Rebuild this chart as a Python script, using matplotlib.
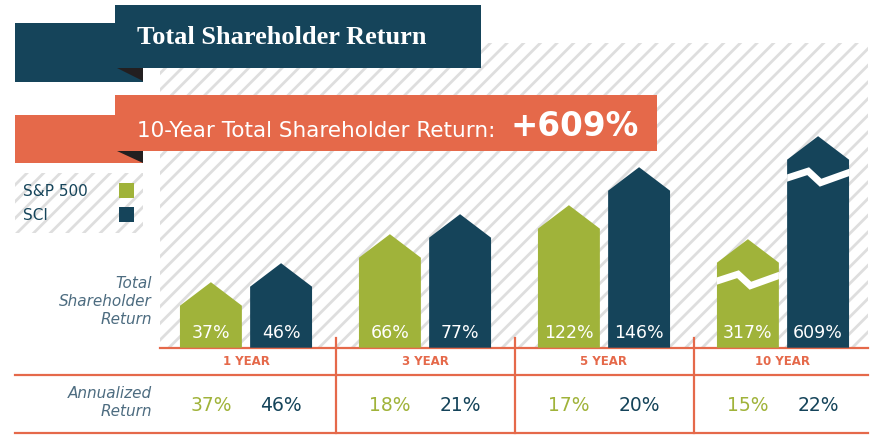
import matplotlib.pyplot as plt
from matplotlib.patches import Polygon, Rectangle
import numpy as np

categories = ["1 YEAR", "3 YEAR", "5 YEAR", "10 YEAR"]
sp500_tsr = [37, 66, 122, 317]
sci_tsr = [46, 77, 146, 609]
sp500_annual = [37, 18, 17, 15]
sci_annual = [46, 21, 20, 22]
# bar heights as drawn on the graphic (not to scale, 10 year bars are broken)
sp500_drawn = [42, 90, 119, 85]
sci_drawn = [61, 110, 157, 188]
broken = [False, False, False, True]
series_names = ["S&P 500", "SCI"]

NAVY = "#15445A"
GREEN = "#A0B33A"
ORANGE = "#E5694A"
SLATE = "#4D6C80"
HATCH = "#DEDEDE"
FOLD = "#231F20"

plt.rcParams["hatch.linewidth"] = 2.0
sans = ["DejaVu Sans"]
serif = ["Liberation Serif", "DejaVu Serif"]

W, H = 877, 441
fig = plt.figure(figsize=(W / 100, H / 100), dpi=100)

# background axes in pixel units for the layout pieces
bg = fig.add_axes([0, 0, 1, 1])
bg.set_xlim(0, W)
bg.set_ylim(H, 0)
bg.axis("off")

# striped panels
bg.add_patch(Rectangle((160, 43), 708, 305, fc="white", ec=HATCH, lw=0, hatch="//"))
bg.add_patch(Rectangle((15, 173), 128, 60, fc="white", ec=HATCH, lw=0, hatch="//"))


def banner(y0, y1, back_y0, back_y1, right, color):
    bg.add_patch(Rectangle((15, back_y0), 128, back_y1 - back_y0, fc=color, ec="none"))
    bg.add_patch(Polygon([(117, y1), (143, y1), (143, y1 + 12.5)], fc=FOLD, ec="none"))
    bg.add_patch(Rectangle((115, y0), right - 115, y1 - y0, fc=color, ec="none"))


banner(5, 68, 23, 82, 481, NAVY)
banner(95, 150.5, 115, 163, 657, ORANGE)

bg.text(137, 43.5, "Total Shareholder Return", color="white", fontsize=19,
        fontweight="bold", family=serif, va="baseline")
bg.text(137, 137, "10-Year Total Shareholder Return:", color="white",
        fontsize=15.5, family=sans, va="baseline")
bg.text(510, 136.5, f"+{sci_tsr[-1]}%", color="white", fontsize=23.5,
        fontweight="bold", family=sans, va="baseline")

# legend
for i, (name, color) in enumerate(zip(series_names, [GREEN, NAVY])):
    yc = 191 + i * 24
    bg.text(23, yc, name, color=NAVY, fontsize=11, family=sans, va="center")
    bg.add_patch(Rectangle((119, yc - 8), 15, 15, fc=color, ec="none"))

# row labels
bg.text(152, 301, "Total\nShareholder\nReturn", color=SLATE, fontsize=11,
        style="italic", family=sans, ha="right", va="center", linespacing=1.25)
bg.text(152, 403, "Annualized\nReturn", color=SLATE, fontsize=11,
        style="italic", family=sans, ha="right", va="center", linespacing=1.25)

# table lines
bg.plot([160, 868], [348, 348], color=ORANGE, lw=1.6)
bg.plot([15, 868], [374.5, 374.5], color=ORANGE, lw=1.6)
bg.plot([15, 868], [433, 433], color=ORANGE, lw=1.6)

# bar axes: x in groups, y in drawn-height units
base_y = 347.7
ax = fig.add_axes([160 / W, (H - base_y) / H, 708 / W, (base_y - 40) / H])
ax.set_xlim(-86 / 179, 622 / 179)
ax.set_ylim(0, base_y - 40)
ax.axis("off")

x = np.arange(len(categories))
bw = 0.346
off = 0.196
roof = 23.5

for xs, heights, vals, color in [(x - off, sp500_drawn, sp500_tsr, GREEN),
                                 (x + off, sci_drawn, sci_tsr, NAVY)]:
    for xc, h, v, brk in zip(xs, heights, vals, broken):
        x0, x1 = xc - bw / 2, xc + bw / 2
        poly = Polygon([(x0, 0), (x0, h), (xc, h + roof), (x1, h), (x1, 0)],
                       closed=True, fc=color, ec="none")
        ax.add_patch(poly)
        ax.text(xc, 9.5, f"{v}%", color="white", fontsize=12.5, family=sans,
                ha="center", va="baseline")
        if brk:
            zx = [x0 - 0.02, x0 + 0.34 * bw, x0 + 0.54 * bw, x1 + 0.02]
            zy = [h - 19.5, h - 11.5, h - 23, h - 11.5]
            line, = ax.plot(zx, zy, color="white", lw=5, solid_joinstyle="miter")
            line.set_clip_path(poly)

# column dividers, category labels and annualized returns
for i in range(1, len(categories)):
    ax.plot([i - 0.5, i - 0.5], [10, -85], color=ORANGE, lw=1.6, clip_on=False)

for i, cat in enumerate(categories):
    ax.text(i, -13.8, cat, color=ORANGE, fontsize=8.5, fontweight="bold",
            family=sans, ha="center", va="center", clip_on=False)
    ax.text(i - off, -57.5, f"{sp500_annual[i]}%", color=GREEN, fontsize=13.5,
            family=sans, ha="center", va="center", clip_on=False)
    ax.text(i + off, -57.5, f"{sci_annual[i]}%", color=NAVY, fontsize=13.5,
            family=sans, ha="center", va="center", clip_on=False)

fig.savefig("out.png", dpi=100)
